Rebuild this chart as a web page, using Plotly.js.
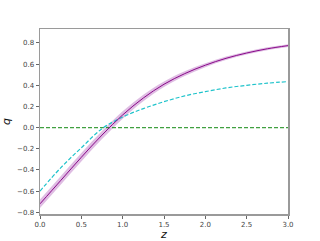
<!DOCTYPE html>
<html><head><meta charset="utf-8">
<script src="https://cdn.plot.ly/plotly-3.0.1.min.js"></script>
<style>html,body{margin:0;padding:0;background:#fff}#plot{width:320px;height:241px}</style>
</head><body><div id="plot"></div>
<script>
const z = [0, 0.25, 0.5, 0.75, 1.0, 1.25, 1.5, 1.75, 2.0, 2.25, 2.5, 2.75, 3.0];
const qMain = [-0.72, -0.50, -0.28, -0.07, 0.12, 0.28, 0.41, 0.51, 0.59, 0.655, 0.705, 0.745, 0.775];
const qErr = [0.04, 0.04, 0.04, 0.038, 0.035, 0.03, 0.026, 0.022, 0.019, 0.017, 0.015, 0.014, 0.013];
const qAlt = [-0.60, -0.38, -0.19, -0.01, 0.10, 0.18, 0.245, 0.30, 0.34, 0.375, 0.40, 0.42, 0.435];
const zeroLine = [0, 0];
const zeroZ = [0, 3];
const xTicks = [0, 0.5, 1.0, 1.5, 2.0, 2.5, 3.0];
const yTicks = [-0.8, -0.6, -0.4, -0.2, 0.0, 0.2, 0.4, 0.6, 0.8];

const lower = qMain.map((v, i) => v - qErr[i]);
const upper = qMain.map((v, i) => v + qErr[i]);

const traces = [
  {x: z, y: lower, mode: 'lines', line: {width: 0, shape: 'spline'}, hoverinfo: 'skip', showlegend: false},
  {x: z, y: upper, mode: 'lines', line: {width: 0, shape: 'spline'}, fill: 'tonexty', fillcolor: 'rgba(175,90,185,0.4)', hoverinfo: 'skip', showlegend: false},
  {x: zeroZ, y: zeroLine, mode: 'lines', line: {color: 'rgba(0,128,0,0.75)', width: 1.2, dash: '4px,2px'}, showlegend: false},
  {x: z, y: qAlt, mode: 'lines', line: {color: '#1fc3cb', width: 1.2, dash: '4px,2px', shape: 'spline'}, showlegend: false},
  {x: z, y: qMain, mode: 'lines', line: {color: '#8a0a8a', width: 1.0, shape: 'spline'}, showlegend: false}
];

const tickFont = {family: 'DejaVu Sans', size: 7, color: '#444'};
const layout = {
  width: 320, height: 241,
  margin: {l: 40, r: 32, t: 29, b: 27},
  paper_bgcolor: '#fff', plot_bgcolor: '#fff',
  showlegend: false,
  xaxis: {
    range: [0, 3], tickvals: xTicks, tickformat: '.1f',
    showgrid: false, zeroline: false,
    showline: true, mirror: true, linecolor: '#9a9a9a', linewidth: 1.5,
    ticks: 'outside', ticklen: 3, tickwidth: 1, tickcolor: '#666',
    tickfont: tickFont,
    title: {text: '<i>z</i>', font: {family: 'DejaVu Sans', size: 11, color: '#111'}, standoff: 2}
  },
  yaxis: {
    range: [-0.816, 0.932], tickvals: yTicks, tickformat: '.1f',
    showgrid: false, zeroline: false,
    showline: true, mirror: true, linecolor: '#9a9a9a', linewidth: 1.5,
    ticks: 'outside', ticklen: 3, tickwidth: 1, tickcolor: '#666',
    tickfont: tickFont,
    title: {text: '<i>q</i>', font: {family: 'DejaVu Sans', size: 11, color: '#111'}, standoff: 6}
  }
};
Plotly.newPlot('plot', traces, layout, {staticPlot: true, displayModeBar: false});
</script>
</body></html>
